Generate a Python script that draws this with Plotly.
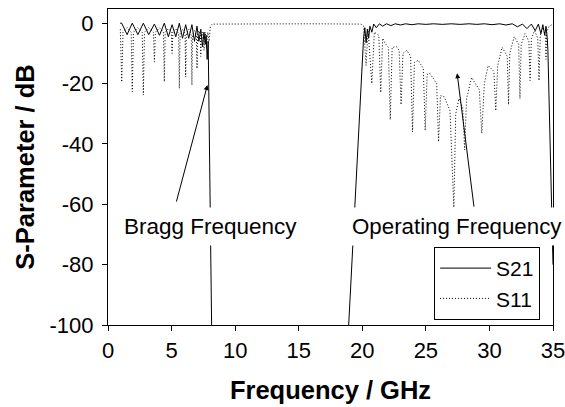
import plotly.graph_objects as go

# ---- S21 (transmission), GHz / dB ----
s21_freq = [0.95, 1.08, 1.5, 1.91, 2.35, 2.78, 3.2, 3.65, 4.05, 4.43, 4.75, 5.04, 5.33, 5.61, 5.86, 6.11,
            6.35, 6.6, 6.8, 7.0, 7.15, 7.3, 7.43, 7.55, 7.65, 7.72, 7.8, 7.88, 8.25,
            12.0, 16.0, 18.5,
            20.1, 20.2, 20.3, 20.4, 20.5, 20.6, 20.75, 20.9, 21.1, 21.35, 21.6, 21.9, 22.25, 22.6, 23.0,
            23.4, 23.9, 24.4, 25.0, 25.6, 26.3, 27.0, 27.7, 28.4, 29.0, 29.6, 30.2, 30.8, 31.3, 31.8,
            32.2, 32.6, 32.95, 33.3, 33.6, 33.85, 34.05, 34.2, 34.35, 34.45, 34.55, 34.6, 35.0]
s21_db = [0.0, 0.0, -3.8, 0.0, -3.8, 0.0, -3.8, -0.3, -4.0, 0.0, -4.5, -0.5, -4.5, 0.0, -5.0, -0.5,
          -5.0, -0.5, -6.0, -1.0, -6.0, -2.0, -7.8, -3.0, -7.0, -4.0, -12.0, -6.0, -135.0,
          -150.0, -150.0, -135.0,
          -5.0, -1.5, -6.5, -2.0, -5.0, -1.0, -3.0, -0.3, -1.5, -0.2, -1.0, -0.2, -0.8, -0.2, -0.6,
          -0.2, -0.5, -0.2, -0.4, -0.2, -0.4, -0.2, -0.4, -0.2, -0.4, -0.2, -0.5, -0.2, -0.6, -0.2,
          -1.2, -0.3, -1.8, -0.3, -2.5, -0.3, -3.5, -0.5, -4.0, -1.0, -5.0, -9.0, -80.0]

# ---- S11 (reflection), GHz / dB ----
s11_freq = [0.97, 1.08, 1.18, 1.5, 1.82, 1.91, 2.0, 2.35, 2.69, 2.78, 2.87, 3.2, 3.57, 3.65, 3.73, 4.05,
            4.36, 4.43, 4.5, 4.75, 4.98, 5.04, 5.1, 5.33, 5.55, 5.61, 5.67, 5.86, 6.06, 6.11, 6.16, 6.35,
            6.55, 6.6, 6.65, 6.8, 6.96, 7.0, 7.04, 7.15, 7.27, 7.3, 7.33, 7.43, 7.55, 7.65, 7.75, 7.85,
            7.95, 8.05, 8.2, 12.0, 16.0, 19.9,
            20.1, 20.3, 20.45, 20.75, 20.95, 21.3, 21.45, 21.6, 21.8, 22.05, 22.2, 22.35, 22.7, 22.9,
            23.05, 23.2, 23.5, 23.8, 23.95, 24.1, 24.4, 24.8, 24.95, 25.1, 25.3, 25.85, 26.0, 26.15,
            26.45, 26.9, 27.2, 27.35, 27.6, 27.9, 28.05, 28.2, 28.6, 29.2, 29.4, 29.6, 29.9, 30.35,
            30.5, 30.65, 31.0, 31.4, 31.5, 31.6, 31.95, 32.3, 32.4, 32.5, 32.8, 33.1, 33.2, 33.3,
            33.55, 33.8, 33.9, 34.0, 34.2, 34.4, 34.45, 34.5, 34.7, 35.0]
s11_db = [-2.0, -19.5, -3.0, -1.5, -3.0, -22.7, -3.0, -1.5, -3.0, -23.8, -3.0, -1.5, -3.0, -12.8, -3.0, -1.5,
          -3.0, -19.4, -3.0, -1.8, -3.0, -10.0, -3.0, -1.8, -3.5, -21.6, -3.5, -2.0, -3.5, -17.8, -3.5, -2.0,
          -4.0, -20.5, -4.0, -2.5, -4.0, -15.0, -4.0, -2.5, -4.0, -11.0, -4.0, -3.0, -9.0, -3.0, -8.0, -3.0,
          -6.0, -1.0, -0.3, -0.2, -0.2, -0.3,
          -1.0, -14.0, -2.0, -20.0, -3.0, -4.0, -23.0, -5.0, -6.7, -8.0, -32.0, -8.0, -7.8, -9.0,
          -27.0, -10.0, -9.0, -11.0, -36.0, -13.0, -12.3, -15.0, -35.5, -17.0, -16.6, -20.0, -39.3, -24.0,
          -24.4, -29.0, -61.0, -30.0, -25.0, -28.0, -42.0, -25.0, -18.0, -22.0, -36.5, -20.0, -14.0, -16.0,
          -29.0, -14.0, -8.0, -11.0, -27.0, -10.0, -4.5, -7.0, -25.0, -7.0, -3.5, -6.0, -19.0, -5.0,
          -2.5, -5.0, -19.0, -4.0, -1.5, -4.0, -12.0, -3.0, -1.0, -0.3]

x_ticks = [0, 5, 10, 15, 20, 25, 30, 35]
x_tick_labels = ["0", "5", "10", "15", "20", "25", "30", "35"]
y_ticks = [0, -20, -40, -60, -80, -100]
y_tick_labels = ["0", "-20", "-40", "-60", "-80", "-100"]

FONT = "Arial, Liberation Sans, sans-serif"

fig = go.Figure()
fig.add_trace(go.Scatter(x=s21_freq, y=s21_db, mode="lines", name="S21",
                         line=dict(color="black", width=1)))
fig.add_trace(go.Scatter(x=s11_freq, y=s11_db, mode="lines", name="S11",
                         line=dict(color="black", width=1, dash="1px,2px")))

# text labels with white background
fig.add_annotation(x=8.06, y=-67.2, xref="x", yref="y", text="Bragg Frequency", showarrow=False,
                   bgcolor="white", borderpad=6, font=dict(size=22.5, color="black", family=FONT))
fig.add_annotation(x=27.45, y=-67.2, xref="x", yref="y", text="Operating Frequency", showarrow=False,
                   bgcolor="white", borderpad=6, font=dict(size=22.3, color="black", family=FONT))
# arrows
fig.add_annotation(x=7.82, y=-20.5, ax=5.35, ay=-59.6, xref="x", yref="y", axref="x", ayref="y",
                   text="", showarrow=True, arrowhead=2, arrowsize=1, arrowwidth=1, arrowcolor="black")
fig.add_annotation(x=27.46, y=-16.6, ax=28.8, ay=-61.3, xref="x", yref="y", axref="x", ayref="y",
                   text="", showarrow=True, arrowhead=2, arrowsize=1, arrowwidth=1, arrowcolor="black")

fig.update_layout(
    width=565, height=407,
    margin=dict(l=108, r=12, t=9, b=82, autoexpand=False),
    paper_bgcolor="white", plot_bgcolor="white",
    font=dict(family=FONT, size=22, color="black"),
    showlegend=True,
    legend=dict(x=0.971, y=0.016, xanchor="right", yanchor="bottom",
                bgcolor="white", bordercolor="black", borderwidth=1,
                font=dict(size=21, family=FONT, color="black"),
                itemwidth=51, tracegroupgap=0),
    xaxis=dict(range=[0, 35], tickvals=x_ticks, ticktext=x_tick_labels, ticks="outside", ticklen=5,
               tickcolor="black", showline=True, linecolor="black", linewidth=1, mirror=True,
               showgrid=False, zeroline=False, ticklabelstandoff=1, automargin=False,
               ticklabeloverflow="allow",
               tickfont=dict(size=22, family=FONT, color="black"),
               title=dict(text="<b>Frequency / GHz</b>", standoff=18,
                          font=dict(size=25.5, family=FONT, color="black"))),
    yaxis=dict(range=[-100, 4.7], tickvals=y_ticks, ticktext=y_tick_labels, ticks="outside", ticklen=5,
               tickcolor="black", showline=True, linecolor="black", linewidth=1, mirror=True,
               showgrid=False, zeroline=False, ticklabelstandoff=4, automargin=False,
               ticklabeloverflow="allow",
               tickfont=dict(size=22, family=FONT, color="black"),
               title=dict(text="<b>S-Parameter / dB</b>", standoff=7,
                          font=dict(size=25.5, family=FONT, color="black"))),
)

# remove the browser's default 8px page margin so the figure fills the window exactly
fig.write_html("out.html", config={"displayModeBar": False},
               post_script="document.body.style.margin='0px';document.body.style.overflow='hidden';")
